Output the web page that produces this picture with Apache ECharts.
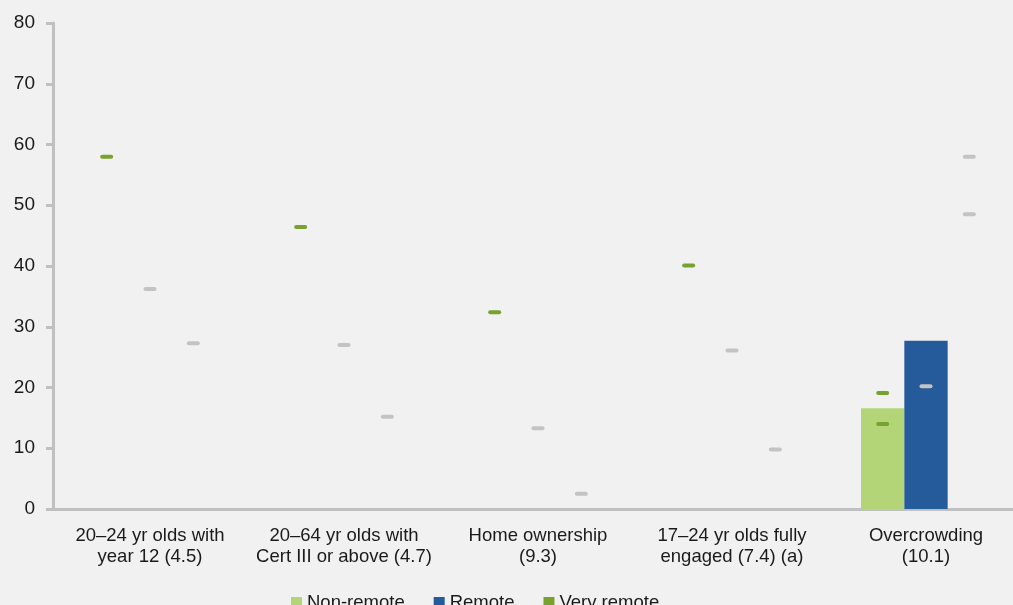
<!DOCTYPE html>
<html>
<head>
<meta charset="utf-8">
<script src="https://cdn.jsdelivr.net/npm/echarts@6/dist/echarts.min.js"></script>
<style>
  html, body { margin: 0; padding: 0; background: #f1f1f1; }
  #chart { width: 1013px; height: 605px; }
</style>
</head>
<body>
<div id="chart"></div>
<script>
// ---- data ----
const categories = [
  '20–24 yr olds with\nyear 12 (4.5)',
  '20–64 yr olds with\nCert III or above (4.7)',
  'Home ownership\n(9.3)',
  '17–24 yr olds fully\nengaged (7.4) (a)',
  'Overcrowding\n(10.1)'
];
const seriesNames = ['Non-remote', 'Remote', 'Very remote'];
const nonRemote  = ['-', '-', '-', '-', 16.6];
const remote     = ['-', '-', '-', '-', 27.7];
const veryRemote = ['-', '-', '-', '-', '-'];
// dash markers, by slot (0 = Non-remote slot, 1 = Remote slot, 2 = Very remote slot)
const slot0Green      = [58.0, 46.4, 32.4, 40.1, 19.1];
const slot0GreenExtra = ['-', '-', '-', '-', 14.0];
const slot1Gray       = [36.2, 27.0, 13.3, 26.1, 20.2];
const slot2Gray       = [27.3, 15.2, 2.5, 9.8, 58.0];
const slot2GrayExtra  = ['-', '-', '-', '-', 48.5];
const yTicks = { min: 0, max: 80, interval: 10 };

// ---- build ----
function marks(arr, slot) {
  const out = [];
  arr.forEach((v, i) => { if (v !== '-') out.push([i, slot, v]); });
  return out;
}
const greenMarks = marks(slot0Green, 0).concat(marks(slot0GreenExtra, 0));
const grayMarks = marks(slot1Gray, 1).concat(marks(slot2Gray, 2), marks(slot2GrayExtra, 2));

const GAP = 0.33;
function dashRenderer(color) {
  return function (params, api) {
    const cat = api.value(0), slot = api.value(1), val = api.value(2);
    const pt = api.coord([cat, val]);
    const band = api.size([1, 0])[0];
    const bw = band * (1 - GAP) / 3;
    const x = pt[0] + (slot - 1) * bw;
    return {
      type: 'rect',
      shape: { x: x - 6.5, y: pt[1] - 2, width: 13, height: 4, r: 2 },
      style: { fill: color }
    };
  };
}

const font = 'Liberation Sans, Arial, sans-serif';
const chart = echarts.init(document.getElementById('chart'));
chart.setOption({
  backgroundColor: '#f1f1f1',
  animation: false,
  textStyle: { fontFamily: font },
  grid: { left: 53, width: 970, top: 23, bottom: 96, containLabel: false, outerBoundsMode: 'none' },
  legend: {
    data: seriesNames,
    top: 588,
    left: 286,
    itemWidth: 11,
    itemHeight: 11,
    itemGap: 29,
    icon: 'rect',
    textStyle: { fontSize: 18.5, color: '#1a1a1a', fontFamily: font }
  },
  xAxis: {
    type: 'category',
    data: categories,
    axisLine: { show: true, lineStyle: { color: '#c0c0c0', width: 3 } },
    axisTick: { show: false },
    axisLabel: { fontSize: 18.5, color: '#1a1a1a', lineHeight: 21, margin: 16, interval: 0, fontFamily: font }
  },
  yAxis: {
    type: 'value',
    min: yTicks.min, max: yTicks.max, interval: yTicks.interval,
    axisLine: { show: true, lineStyle: { color: '#c0c0c0', width: 3 } },
    axisTick: { show: true, length: 7, lineStyle: { color: '#c0c0c0', width: 3 } },
    splitLine: { show: false },
    axisLabel: { fontSize: 19, color: '#1a1a1a', margin: 18, fontFamily: font }
  },
  series: [
    { name: seriesNames[0], type: 'bar', data: nonRemote, itemStyle: { color: '#b3d577' }, barGap: 0, barCategoryGap: (GAP * 100) + '%' },
    { name: seriesNames[1], type: 'bar', data: remote, itemStyle: { color: '#265b9b' }, barGap: 0, barCategoryGap: (GAP * 100) + '%' },
    { name: seriesNames[2], type: 'bar', data: veryRemote, itemStyle: { color: '#77a22d' }, barGap: 0, barCategoryGap: (GAP * 100) + '%' },
    { type: 'custom', name: 'greenMarks', data: greenMarks, renderItem: dashRenderer('#77a22d'), encode: { x: 0, y: 2 }, z: 5 },
    { type: 'custom', name: 'grayMarks', data: grayMarks, renderItem: dashRenderer('#c3c3c3'), encode: { x: 0, y: 2 }, z: 5 }
  ]
});
</script>
</body>
</html>
